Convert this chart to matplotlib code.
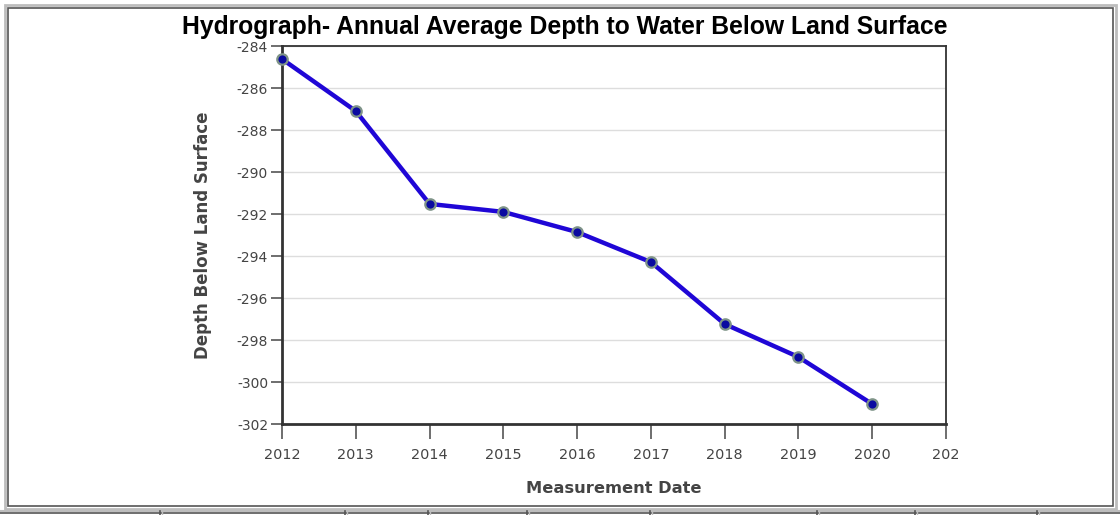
import matplotlib
matplotlib.use("Agg")

import matplotlib.pyplot as plt
from matplotlib.patches import Rectangle

plt.rcParams["axes.unicode_minus"] = False

# ------------------------------------------------------------------ data --
years = [2012, 2013, 2014, 2015, 2016, 2017, 2018, 2019, 2020]
depth = [-284.62, -287.1, -291.52, -291.9, -292.86, -294.29, -297.24, -298.81, -301.05]

x_ticks = [2012, 2013, 2014, 2015, 2016, 2017, 2018, 2019, 2020, 2021]
x_tick_labels = ["2012", "2013", "2014", "2015", "2016", "2017", "2018",
                 "2019", "2020", "202"]
y_ticks = [-284, -286, -288, -290, -292, -294, -296, -298, -300, -302]

# bottom table strip (pixel x of cell separators in the page)
table_seps = [160, 345, 428, 527, 650, 817, 915, 1037]

# ---------------------------------------------------------------- style --
LINE = "#1f06d6"
MARK = "#0a0aa0"
MARK_EDGE = "#7f9488"
TEXT = "#444444"
AXIS = "#333333"
GRID = "#dddddd"

W, H = 1120, 515
fig = plt.figure(figsize=(W / 100, H / 100), dpi=100)
fig.patch.set_facecolor("white")

# page frame drawn in pixel coords on a background axes
bg = fig.add_axes([0, 0, 1, 1], zorder=0)
bg.set_xlim(0, W)
bg.set_ylim(H, 0)
bg.axis("off")
bg.add_patch(Rectangle((4.5, 4.5), W - 9, 504, fill=False, ec="#bdbdbd", lw=2))
bg.add_patch(Rectangle((7.5, 7.5), W - 15, 498, fill=False, ec="#555555", lw=1.2))
bg.plot([0, W], [510.5, 510.5], color="#bdbdbd", lw=1.5)
bg.plot([0, W], [512.5, 512.5], color="#555555", lw=1.2)
for sx in table_seps:
    bg.plot([sx, sx], [511, H], color="#555555", lw=1.2)
    bg.plot([sx + 2, sx + 2], [511, H], color="#bdbdbd", lw=1.0)

# ------------------------------------------------------------------ plot --
ax = fig.add_axes([282 / W, 1 - 424 / H, (946 - 282) / W, (424 - 46) / H], zorder=2)
ax.set_facecolor("white")
ax.plot(years, depth, color=LINE, lw=3.2, zorder=3, solid_capstyle="round",
        clip_on=False)
ax.plot(years, depth, ls="none", marker="o", ms=7.5, mfc=MARK, mec=MARK_EDGE,
        mew=1.6, zorder=4, clip_on=False)

ax.set_xlim(2012, 2021)
ax.set_ylim(-302, -284)
ax.set_xticks(x_ticks)
ax.set_xticklabels(x_tick_labels)
ax.set_yticks(y_ticks)
ax.grid(axis="y", color=GRID, lw=1.0)
ax.set_axisbelow(True)

for side in ("left", "bottom"):
    ax.spines[side].set_color(AXIS)
    ax.spines[side].set_linewidth(2.0)
for side in ("top", "right"):
    ax.spines[side].set_color(AXIS)
    ax.spines[side].set_linewidth(1.3)

ax.tick_params(axis="x", direction="out", length=11, width=1.2, color="#555555",
               labelsize=10.4, labelcolor=TEXT, pad=6)
ax.tick_params(axis="y", direction="out", length=8, width=1.2, color="#555555",
               labelsize=10.0, labelcolor=TEXT, pad=2)
for lab in ax.get_xticklabels() + ax.get_yticklabels():
    lab.set_family("DejaVu Sans")

ax.set_xlabel("Measurement Date", fontsize=11.7, fontweight="bold",
              color=TEXT, labelpad=14)
ax.set_ylabel("Depth Below Land Surface", fontsize=12.0, fontweight="bold",
              color=TEXT, labelpad=18)

fig.text(565 / W, 1 - 27 / H, "Hydrograph- Annual Average Depth to Water Below Land Surface",
         ha="center", va="center", fontsize=17.8, fontweight="bold",
         family="Liberation Sans", color="black")

fig.savefig("out.png", dpi=100, facecolor="white")
